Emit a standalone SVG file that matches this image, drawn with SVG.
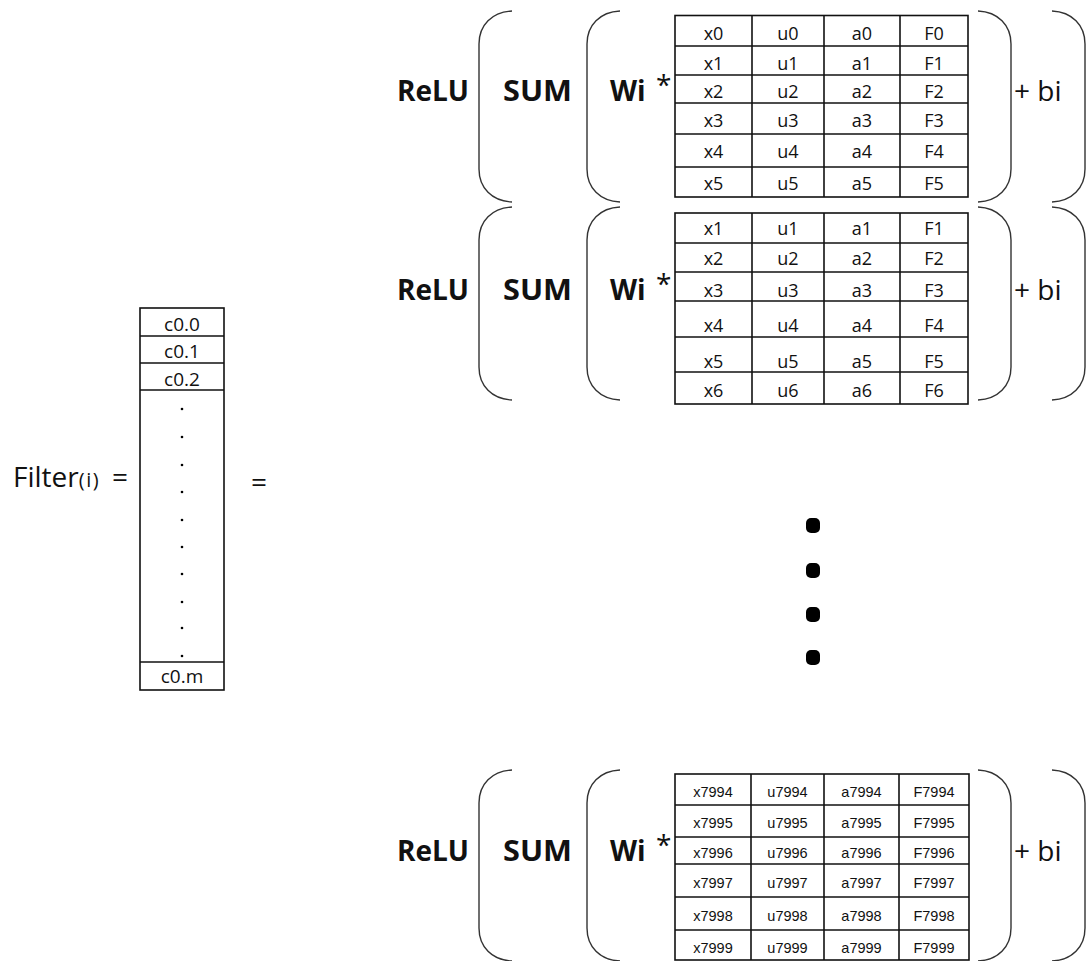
<svg xmlns="http://www.w3.org/2000/svg" width="1086" height="961" viewBox="0 0 1086 961">
<style>
.bg{fill:#fff}
.br{fill:none;stroke:#333;stroke-width:1.4}
.grid{fill:none;stroke:#111;stroke-width:1.6}
.lbl{font-family:"Open Sans","Liberation Sans",sans-serif;font-size:28px;fill:#111}
.b{font-weight:bold}
.c1{font-family:"Open Sans","Liberation Sans",sans-serif;font-size:18px;fill:#111;text-anchor:middle}
.c3{font-family:"Liberation Sans","Open Sans",sans-serif;font-size:14.5px;fill:#111;text-anchor:middle}
.cf{font-family:"Open Sans","Liberation Sans",sans-serif;font-size:19px;fill:#111;text-anchor:middle}
.dot{fill:#000}
</style>
<defs>
<path id="lb191" d="M34 0 C14 1 1 14 1 33 V158 C1 177 14 190 34 191"/>
<path id="rb191" d="M0 0 C20 1 33 14 33 33 V158 C33 177 20 190 0 191"/>
<path id="lb193" d="M34 0 C14 1 1 14 1 33 V160 C1 179 14 192 34 193"/>
<path id="rb193" d="M0 0 C20 1 33 14 33 33 V160 C33 179 20 192 0 193"/>
</defs>
<rect class="bg" x="0" y="0" width="1086" height="961"/>

<g id="filter">
<text class="lbl" x="13" y="487">Filter<tspan font-size="20" letter-spacing="1.5">(i)</tspan></text>
<text class="lbl" x="112" y="487">=</text>
<rect class="grid" x="140" y="308" width="84" height="382"/>
<line class="grid" x1="140" y1="336" x2="224" y2="336"/>
<line class="grid" x1="140" y1="363" x2="224" y2="363"/>
<line class="grid" x1="140" y1="390" x2="224" y2="390"/>
<line class="grid" x1="140" y1="662" x2="224" y2="662"/>
<text class="cf" x="182" y="331">c0.0</text>
<text class="cf" x="182" y="358">c0.1</text>
<text class="cf" x="182" y="386">c0.2</text>
<text class="cf" x="182" y="683">c0.m</text>
<g class="dot">
<circle cx="182" cy="409" r="1.3"/><circle cx="182" cy="437" r="1.3"/><circle cx="182" cy="465" r="1.3"/><circle cx="182" cy="492" r="1.3"/><circle cx="182" cy="520" r="1.3"/><circle cx="182" cy="547" r="1.3"/><circle cx="182" cy="574" r="1.3"/><circle cx="182" cy="602" r="1.3"/><circle cx="182" cy="628" r="1.3"/><circle cx="182" cy="656" r="1.3"/>
</g>
<text class="lbl" x="251" y="492">=</text>
</g>

<g id="block1">
<text class="lbl b" x="397" y="101">ReLU</text>
<use href="#lb191" class="br" x="478" y="11"/>
<text class="lbl b" x="503" y="101" textLength="69" lengthAdjust="spacingAndGlyphs">SUM</text>
<use href="#lb191" class="br" x="586" y="11"/>
<text class="lbl b" x="610" y="101">Wi</text>
<text class="lbl" x="656" y="95">*</text>
<rect class="grid" x="675" y="15.5" width="293" height="181.5"/>
<line class="grid" x1="675" y1="46" x2="968" y2="46"/>
<line class="grid" x1="675" y1="75" x2="968" y2="75"/>
<line class="grid" x1="675" y1="103" x2="968" y2="103"/>
<line class="grid" x1="675" y1="134" x2="968" y2="134"/>
<line class="grid" x1="675" y1="167" x2="968" y2="167"/>
<line class="grid" x1="752" y1="15.5" x2="752" y2="197"/>
<line class="grid" x1="824" y1="15.5" x2="824" y2="197"/>
<line class="grid" x1="900" y1="15.5" x2="900" y2="197"/>
<g class="c1">
<text x="713.5" y="40">x0</text><text x="788" y="40">u0</text><text x="862" y="40">a0</text><text x="934" y="40">F0</text>
<text x="713.5" y="70">x1</text><text x="788" y="70">u1</text><text x="862" y="70">a1</text><text x="934" y="70">F1</text>
<text x="713.5" y="98">x2</text><text x="788" y="98">u2</text><text x="862" y="98">a2</text><text x="934" y="98">F2</text>
<text x="713.5" y="126.5">x3</text><text x="788" y="126.5">u3</text><text x="862" y="126.5">a3</text><text x="934" y="126.5">F3</text>
<text x="713.5" y="158">x4</text><text x="788" y="158">u4</text><text x="862" y="158">a4</text><text x="934" y="158">F4</text>
<text x="713.5" y="190">x5</text><text x="788" y="190">u5</text><text x="862" y="190">a5</text><text x="934" y="190">F5</text>
</g>
<use href="#rb191" class="br" x="978" y="11"/>
<text class="lbl" x="1014" y="101">+ bi</text>
<use href="#rb191" class="br" x="1052" y="11"/>
</g>

<g id="block2">
<text class="lbl b" x="397" y="300">ReLU</text>
<use href="#lb193" class="br" x="478" y="207"/>
<text class="lbl b" x="503" y="300" textLength="69" lengthAdjust="spacingAndGlyphs">SUM</text>
<use href="#lb193" class="br" x="586" y="207"/>
<text class="lbl b" x="610" y="300">Wi</text>
<text class="lbl" x="656" y="294">*</text>
<rect class="grid" x="675" y="213" width="293" height="191"/>
<line class="grid" x1="675" y1="243" x2="968" y2="243"/>
<line class="grid" x1="675" y1="272" x2="968" y2="272"/>
<line class="grid" x1="675" y1="301" x2="968" y2="301"/>
<line class="grid" x1="675" y1="337" x2="968" y2="337"/>
<line class="grid" x1="675" y1="372" x2="968" y2="372"/>
<line class="grid" x1="752" y1="213" x2="752" y2="404"/>
<line class="grid" x1="824" y1="213" x2="824" y2="404"/>
<line class="grid" x1="900" y1="213" x2="900" y2="404"/>
<g class="c1">
<text x="713.5" y="235">x1</text><text x="788" y="235">u1</text><text x="862" y="235">a1</text><text x="934" y="235">F1</text>
<text x="713.5" y="265">x2</text><text x="788" y="265">u2</text><text x="862" y="265">a2</text><text x="934" y="265">F2</text>
<text x="713.5" y="297">x3</text><text x="788" y="297">u3</text><text x="862" y="297">a3</text><text x="934" y="297">F3</text>
<text x="713.5" y="332">x4</text><text x="788" y="332">u4</text><text x="862" y="332">a4</text><text x="934" y="332">F4</text>
<text x="713.5" y="368">x5</text><text x="788" y="368">u5</text><text x="862" y="368">a5</text><text x="934" y="368">F5</text>
<text x="713.5" y="397">x6</text><text x="788" y="397">u6</text><text x="862" y="397">a6</text><text x="934" y="397">F6</text>
</g>
<use href="#rb193" class="br" x="978" y="207"/>
<text class="lbl" x="1014" y="300">+ bi</text>
<use href="#rb193" class="br" x="1052" y="207"/>
</g>

<g id="ellipsis" class="dot">
<rect x="806" y="518" width="14" height="15" rx="5"/>
<rect x="806" y="563" width="14" height="15" rx="5"/>
<rect x="806" y="607" width="14" height="15" rx="5"/>
<rect x="806" y="650" width="14" height="15" rx="5"/>
</g>

<g id="block3">
<text class="lbl b" x="397" y="861">ReLU</text>
<use href="#lb191" class="br" x="478" y="770"/>
<text class="lbl b" x="503" y="861" textLength="69" lengthAdjust="spacingAndGlyphs">SUM</text>
<use href="#lb191" class="br" x="586" y="770"/>
<text class="lbl b" x="610" y="861">Wi</text>
<text class="lbl" x="656" y="855">*</text>
<rect class="grid" x="675" y="774" width="294" height="186"/>
<line class="grid" x1="675" y1="805" x2="969" y2="805"/>
<line class="grid" x1="675" y1="837" x2="969" y2="837"/>
<line class="grid" x1="675" y1="864" x2="969" y2="864"/>
<line class="grid" x1="675" y1="897" x2="969" y2="897"/>
<line class="grid" x1="675" y1="930" x2="969" y2="930"/>
<line class="grid" x1="751" y1="774" x2="751" y2="960"/>
<line class="grid" x1="824" y1="774" x2="824" y2="960"/>
<line class="grid" x1="899" y1="774" x2="899" y2="960"/>
<g class="c3">
<text x="713" y="797">x7994</text><text x="787.5" y="797">u7994</text><text x="861.5" y="797">a7994</text><text x="934" y="797">F7994</text>
<text x="713" y="828">x7995</text><text x="787.5" y="828">u7995</text><text x="861.5" y="828">a7995</text><text x="934" y="828">F7995</text>
<text x="713" y="858">x7996</text><text x="787.5" y="858">u7996</text><text x="861.5" y="858">a7996</text><text x="934" y="858">F7996</text>
<text x="713" y="888">x7997</text><text x="787.5" y="888">u7997</text><text x="861.5" y="888">a7997</text><text x="934" y="888">F7997</text>
<text x="713" y="921">x7998</text><text x="787.5" y="921">u7998</text><text x="861.5" y="921">a7998</text><text x="934" y="921">F7998</text>
<text x="713" y="953">x7999</text><text x="787.5" y="953">u7999</text><text x="861.5" y="953">a7999</text><text x="934" y="953">F7999</text>
</g>
<use href="#rb191" class="br" x="978" y="770"/>
<text class="lbl" x="1014" y="861">+ bi</text>
<use href="#rb191" class="br" x="1052" y="770"/>
</g>
</svg>
